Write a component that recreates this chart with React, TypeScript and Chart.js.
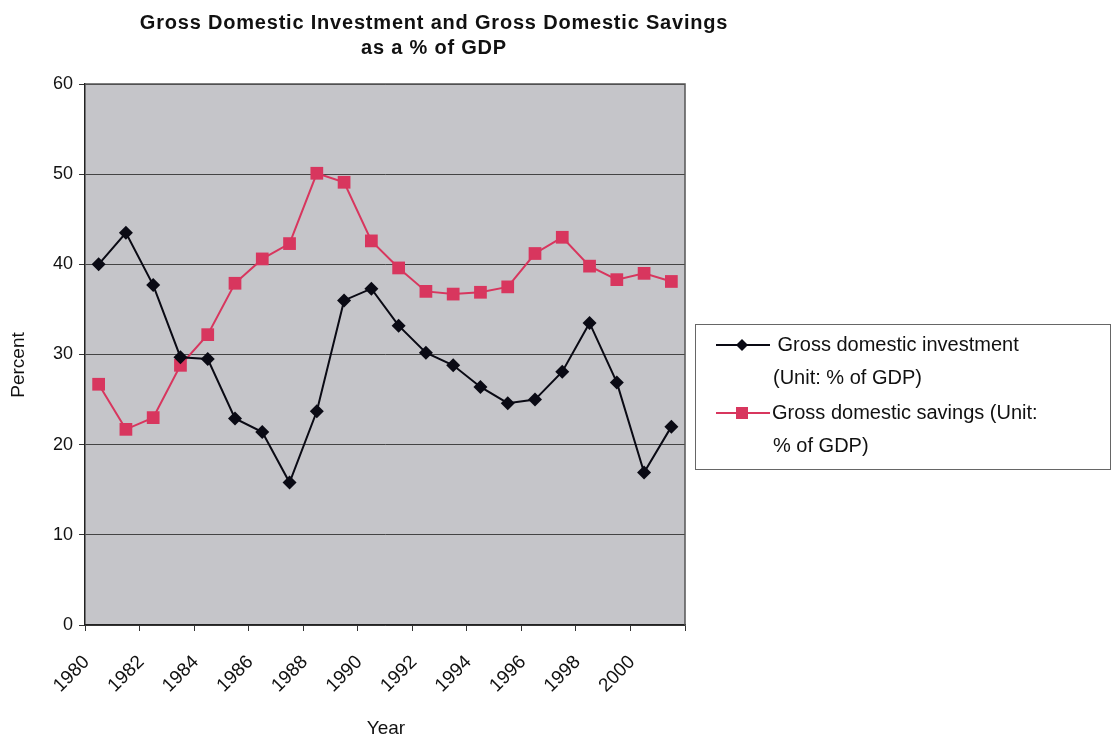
import React, { useEffect, useRef } from "react";
import { Chart, registerables } from "chart.js";

Chart.register(...registerables);

const years = ["1980","1981","1982","1983","1984","1985","1986","1987","1988","1989","1990","1991","1992","1993","1994","1995","1996","1997","1998","1999","2000","2001"];
const investment = [40.0,43.5,37.7,29.7,29.5,22.9,21.4,15.8,23.7,36.0,37.3,33.2,30.2,28.8,26.4,24.6,25.0,28.1,33.5,26.9,16.9,22.0];
const savings = [26.7,21.7,23.0,28.8,32.2,37.9,40.6,42.3,50.1,49.1,42.6,39.6,37.0,36.7,36.9,37.5,41.2,43.0,39.8,38.3,39.0,38.1];
const titleLines = ["Gross Domestic Investment and Gross Domestic Savings", "as a % of GDP"];
const legendLabels = [
  [" Gross domestic investment", "(Unit: % of GDP)"],
  ["Gross domestic savings (Unit:", "% of GDP)"],
];
const invColor = "#0a0a14";
const savColor = "#d8365e";
const FONT = "'Liberation Sans', Arial, sans-serif";

const decorPlugin = {
  id: "decor",
  beforeDraw(chart: any) {
    const { ctx, chartArea } = chart;
    ctx.save();
    ctx.fillStyle = "#c5c5c9";
    ctx.fillRect(chartArea.left, chartArea.top, chartArea.right - chartArea.left, chartArea.bottom - chartArea.top);
    ctx.restore();
  },
  afterDraw(chart: any) {
    const { ctx, chartArea } = chart;
    ctx.save();
    ctx.strokeStyle = "#555";
    ctx.lineWidth = 1.5;
    ctx.beginPath();
    ctx.moveTo(chartArea.left, chartArea.top);
    ctx.lineTo(chartArea.right, chartArea.top);
    ctx.lineTo(chartArea.right, chartArea.bottom);
    ctx.stroke();
    // title
    ctx.fillStyle = "#111";
    ctx.textAlign = "center";
    ctx.textBaseline = "middle";
    ctx.font = `bold 20px ${FONT}`;
    (ctx as any).letterSpacing = "0.8px";
    ctx.fillText(titleLines[0], 434, 23);
    ctx.fillText(titleLines[1], 434, 48);
    (ctx as any).letterSpacing = "0px";
    // axis titles
    ctx.font = `19px ${FONT}`;
    ctx.fillText("Year", 386, 729);
    ctx.save();
    ctx.translate(19, 365);
    ctx.rotate(-Math.PI / 2);
    ctx.fillText("Percent", 0, 0);
    ctx.restore();
    // legend
    ctx.fillStyle = "#ffffff";
    ctx.fillRect(695, 324, 416, 146);
    ctx.strokeStyle = "#666";
    ctx.lineWidth = 1;
    ctx.strokeRect(695.5, 324.5, 415, 145);
    const items = [
      { color: invColor, y: 345, marker: "diamond" },
      { color: savColor, y: 413, marker: "square" },
    ];
    items.forEach((it, i) => {
      ctx.strokeStyle = it.color;
      ctx.lineWidth = 2;
      ctx.beginPath();
      ctx.moveTo(716, it.y);
      ctx.lineTo(770, it.y);
      ctx.stroke();
      ctx.fillStyle = it.color;
      if (it.marker === "diamond") {
        ctx.beginPath();
        ctx.moveTo(742, it.y - 6);
        ctx.lineTo(748, it.y);
        ctx.lineTo(742, it.y + 6);
        ctx.lineTo(736, it.y);
        ctx.closePath();
        ctx.fill();
      } else {
        ctx.fillRect(736, it.y - 6, 12, 12);
      }
      ctx.fillStyle = "#111";
      ctx.textAlign = "left";
      ctx.font = `20px ${FONT}`;
      ctx.fillText(legendLabels[i][0], 772, it.y);
      ctx.fillText(legendLabels[i][1], 773, it.y + 33);
    });
    ctx.restore();
  },
};

export default function App() {
  const ref = useRef<HTMLCanvasElement | null>(null);
  useEffect(() => {
    if (!ref.current) return;
    const chart = new Chart(ref.current, {
      type: "line",
      data: {
        labels: years,
        datasets: [
          {
            label: "Gross domestic investment (Unit: % of GDP)",
            data: investment,
            borderColor: invColor,
            backgroundColor: invColor,
            borderWidth: 2,
            pointStyle: "rectRot",
            pointRadius: 7,
            pointBorderWidth: 0,
            tension: 0,
          },
          {
            label: "Gross domestic savings (Unit: % of GDP)",
            data: savings,
            borderColor: savColor,
            backgroundColor: savColor,
            borderWidth: 2,
            pointStyle: "rect",
            pointRadius: 9,
            pointBorderWidth: 0,
            tension: 0,
          },
        ],
      },
      options: {
        animation: false,
        responsive: false,
        maintainAspectRatio: false,
        layout: { padding: { left: 0, top: 84, right: 427, bottom: 0 } },
        plugins: {
          legend: { display: false },
          title: { display: false },
          tooltip: { enabled: false },
        },
        scales: {
          x: {
            type: "category",
            offset: true,
            afterFit: (s: any) => { s.height = 117; },
            border: { display: true, color: "#222", width: 1.5 },
            grid: {
              offset: true,
              drawOnChartArea: false,
              drawTicks: true,
              tickLength: 6,
              tickColor: (c: any) => (c.index === undefined || c.index % 2 === 0 ? "#333" : "rgba(0,0,0,0)"),
              color: (c: any) => (c.index === undefined || c.index % 2 === 0 ? "#333" : "rgba(0,0,0,0)"),
            },
            ticks: {
              autoSkip: false,
              maxRotation: 45,
              minRotation: 45,
              labelOffset: -12,
              padding: 20,
              color: "#111",
              font: { family: FONT, size: 19 },
              callback: (_v: any, i: number) => (i % 2 === 0 ? years[i] : ""),
            },
          },
          y: {
            min: 0,
            max: 60,
            afterFit: (s: any) => { s.width = 85; },
            border: { display: true, color: "#222", width: 1.5 },
            grid: {
              color: "#444",
              lineWidth: 1,
              tickLength: 6,
              tickColor: "#333",
            },
            ticks: {
              stepSize: 10,
              padding: 6,
              color: "#111",
              font: { family: FONT, size: 18 },
            },
          },
        },
      },
      plugins: [decorPlugin],
    });
    return () => chart.destroy();
  }, []);
  return (
    <div style={{ position: "fixed", left: 0, top: 0, width: 1112, height: 742, background: "#fff" }}>
      <canvas ref={ref} width={1112} height={742} style={{ display: "block" }} />
    </div>
  );
}
